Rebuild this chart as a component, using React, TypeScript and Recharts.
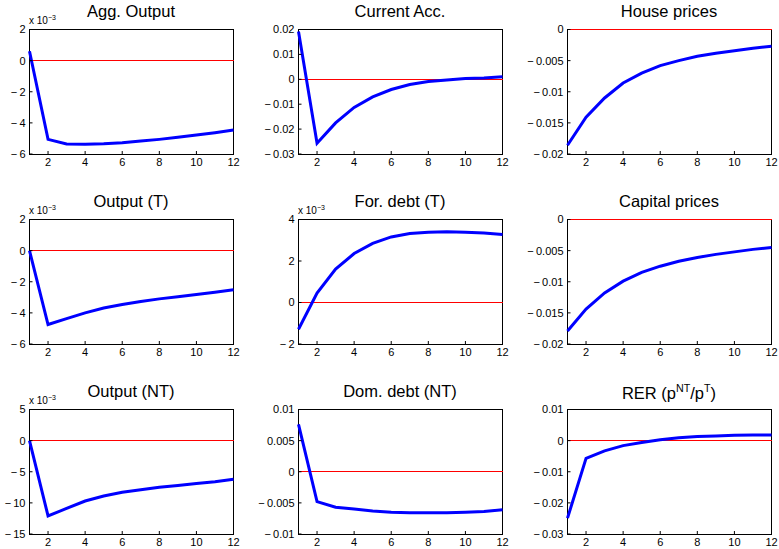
import React from "react";
import { LineChart, Line, XAxis, YAxis, ReferenceLine, ReferenceArea } from "recharts";

// periods after the shock
const periods = [1, 2, 3, 4, 5, 6, 7, 8, 9, 10, 11, 12];
const xTicks = [2, 4, 6, 8, 10, 12];

// impulse responses (panels marked x 10^-3 are stored in those units)
const aggOutput = [0.6, -5.06, -5.36, -5.38, -5.34, -5.27, -5.17, -5.06, -4.93, -4.78, -4.63, -4.46];
const currentAcc = [0.0192, -0.0257, -0.0175, -0.0113, -0.0071, -0.0041, -0.0021, -0.0009, -0.0003, 0.0003, 0.0005, 0.001];
const housePrices = [-0.0186, -0.0141, -0.011, -0.0086, -0.007, -0.0058, -0.005, -0.0043, -0.0038, -0.0034, -0.003, -0.0027];
const outputT = [0, -4.75, -4.37, -4.0, -3.69, -3.46, -3.27, -3.1, -2.97, -2.82, -2.67, -2.52];
const forDebtT = [-1.29, 0.46, 1.61, 2.36, 2.85, 3.16, 3.32, 3.39, 3.41, 3.39, 3.35, 3.28];
const capitalPrices = [-0.0179, -0.0144, -0.0118, -0.0099, -0.0085, -0.0075, -0.0067, -0.0061, -0.0056, -0.0052, -0.0048, -0.0045];
const outputNT = [0, -12.1, -10.9, -9.7, -8.9, -8.3, -7.9, -7.5, -7.2, -6.9, -6.6, -6.2];
const domDebtNT = [0.0076, -0.0048, -0.0057, -0.006, -0.0063, -0.0065, -0.0066, -0.0066, -0.0066, -0.0065, -0.0064, -0.0061];
const rer = [-0.0249, -0.0057, -0.0033, -0.0016, -0.0006, 0.0003, 0.0009, 0.0013, 0.0015, 0.0017, 0.0018, 0.0018];

// y tick labels
const ticksAgg = [-6, -4, -2, 0, 2];
const ticksCA = [-0.03, -0.02, -0.01, 0, 0.01, 0.02];
const ticksPrices = [-0.02, -0.015, -0.01, -0.005, 0];
const ticksOutT = [-6, -4, -2, 0, 2];
const ticksDebtT = [-2, 0, 2, 4];
const ticksOutNT = [-15, -10, -5, 0, 5];
const ticksDomDebt = [-0.01, -0.005, 0, 0.005, 0.01];
const ticksRer = [-0.03, -0.02, -0.01, 0, 0.01];

const FONT = '"Liberation Sans", Arial, Helvetica, sans-serif';
const PW = 204;
const PH = 125;
const colLeft = [29, 298, 567];
const rowTop = [29, 219, 409];

type Panel = {
  title: React.ReactNode;
  values: number[];
  ticks: number[];
  scaled?: boolean;
  col: number;
  row: number;
};

const panels: Panel[] = [
  { title: "Agg. Output", values: aggOutput, ticks: ticksAgg, scaled: true, col: 0, row: 0 },
  { title: "Current Acc.", values: currentAcc, ticks: ticksCA, col: 1, row: 0 },
  { title: "House prices", values: housePrices, ticks: ticksPrices, col: 2, row: 0 },
  { title: "Output (T)", values: outputT, ticks: ticksOutT, scaled: true, col: 0, row: 1 },
  { title: "For. debt (T)", values: forDebtT, ticks: ticksDebtT, scaled: true, col: 1, row: 1 },
  { title: "Capital prices", values: capitalPrices, ticks: ticksPrices, col: 2, row: 1 },
  { title: "Output (NT)", values: outputNT, ticks: ticksOutNT, scaled: true, col: 0, row: 2 },
  { title: "Dom. debt (NT)", values: domDebtNT, ticks: ticksDomDebt, col: 1, row: 2 },
  {
    title: (
      <>
        RER (p<sup style={{ fontSize: "0.65em" }}>NT</sup>/p<sup style={{ fontSize: "0.65em" }}>T</sup>)
      </>
    ),
    values: rer,
    ticks: ticksRer,
    col: 2,
    row: 2,
  },
];

// matlab-ish long minus
const fmt = (v: number) => String(v).replace("-", "\u2212\u2009");

const ML = 50; // room for y labels
const MT = 30;
const HALF = 0.5; // keep 1px lines on pixel centres

const SmallPlot = ({ p }: { p: Panel }) => {
  const data = periods.map((x, i) => ({ x, y: p.values[i] }));
  const left = colLeft[p.col];
  const top = rowTop[p.row];
  const lo = p.ticks[0];
  const hi = p.ticks[p.ticks.length - 1];
  const tickStyle = { fill: "#000", fontSize: 11, fontFamily: FONT };
  return (
    <>
      <div
        style={{
          position: "absolute",
          left: left,
          width: PW,
          top: top - 26,
          textAlign: "center",
          fontSize: 16.5,
          lineHeight: 1,
          fontFamily: FONT,
          whiteSpace: "nowrap",
        }}
      >
        {p.title}
      </div>
      {p.scaled && (
        <div
          style={{
            position: "absolute",
            left: left,
            top: top - 15,
            fontSize: 10,
            lineHeight: 1,
            fontFamily: FONT,
            whiteSpace: "nowrap",
          }}
        >
          x 10<sup style={{ fontSize: 7 }}>{"\u22123"}</sup>
        </div>
      )}
      <div style={{ position: "absolute", left: left - ML, top: top - MT }}>
        <LineChart
          width={PW + ML + 10}
          height={PH + MT + 24}
          data={data}
          margin={{ top: MT + HALF, right: 10 - HALF, left: HALF, bottom: 0 }}
        >
          <XAxis
            xAxisId="b"
            dataKey="x"
            type="number"
            domain={[1, 12]}
            ticks={xTicks}
            height={24}
            tickSize={-3}
            tickMargin={7}
            tick={tickStyle}
            stroke="#000"
            axisLine={false}
          />
          <XAxis
            xAxisId="t"
            orientation="top"
            dataKey="x"
            type="number"
            domain={[1, 12]}
            ticks={xTicks}
            height={0}
            tickSize={-3}
            tick={{ fill: "none" }}
            stroke="#000"
            axisLine={false}
          />
          <YAxis
            yAxisId="l"
            type="number"
            domain={[lo, hi]}
            ticks={p.ticks}
            width={ML}
            tickSize={-3}
            tickMargin={7}
            tickFormatter={fmt}
            tick={tickStyle}
            stroke="#000"
            axisLine={false}
            interval={0}
          />
          <YAxis
            yAxisId="r"
            orientation="right"
            type="number"
            domain={[lo, hi]}
            ticks={p.ticks}
            width={0}
            tickSize={-3}
            tick={{ fill: "none" }}
            stroke="#000"
            axisLine={false}
            interval={0}
          />
          <ReferenceArea
            xAxisId="b"
            yAxisId="l"
            x1={1}
            x2={12}
            y1={lo}
            y2={hi}
            fill="none"
            stroke="#000"
            strokeWidth={1}
            shapeRendering="crispEdges"
          />
          <ReferenceLine
            xAxisId="b"
            yAxisId="l"
            y={0}
            stroke="#ff0000"
            strokeWidth={1}
            shapeRendering="crispEdges"
          />
          <Line
            xAxisId="b"
            yAxisId="l"
            type="linear"
            dataKey="y"
            stroke="#0000ff"
            strokeWidth={3}
            dot={false}
            isAnimationActive={false}
          />
        </LineChart>
      </div>
    </>
  );
};

export default function App() {
  return (
    <div
      style={{
        position: "absolute",
        left: 0,
        top: 0,
        width: 779,
        height: 549,
        background: "#fff",
        overflow: "hidden",
      }}
    >
      {panels.map((p, i) => (
        <SmallPlot key={i} p={p} />
      ))}
    </div>
  );
}
